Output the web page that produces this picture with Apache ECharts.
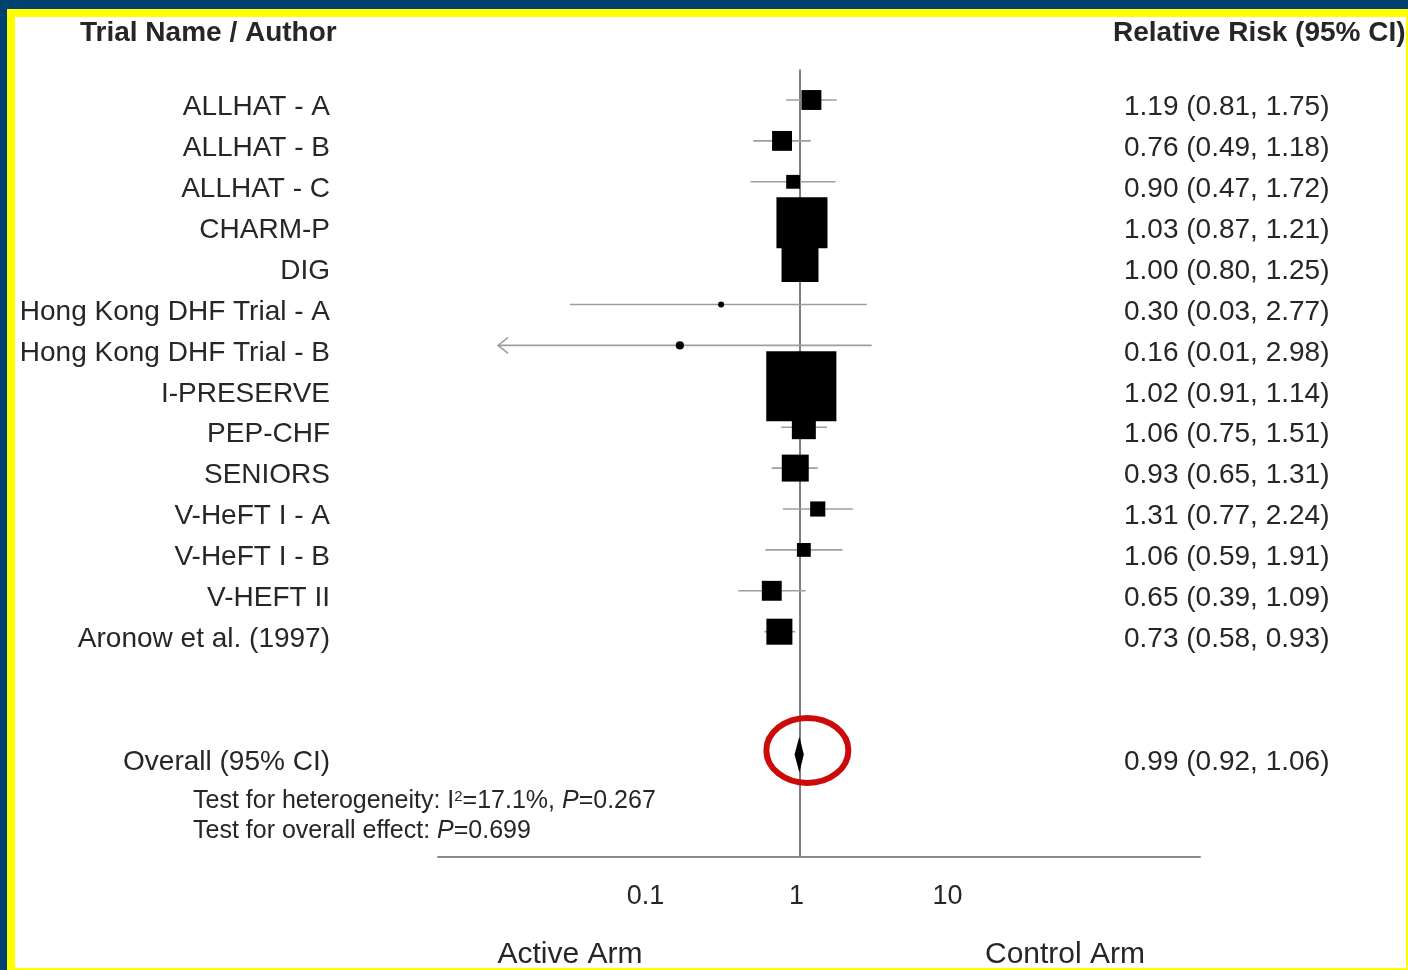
<!DOCTYPE html>
<html>
<head>
<meta charset="utf-8">
<script src="https://cdn.jsdelivr.net/npm/echarts@6/dist/echarts.min.js"></script>
<style>
  html, body { margin: 0; padding: 0; background: #fff; }
  #chart { width: 1408px; height: 970px; }
</style>
</head>
<body>
<div id="chart"></div>
<script>
// study rows (top to bottom)
var trials = ['ALLHAT - A', 'ALLHAT - B', 'ALLHAT - C', 'CHARM-P', 'DIG',
  'Hong Kong DHF Trial - A', 'Hong Kong DHF Trial - B', 'I-PRESERVE', 'PEP-CHF',
  'SENIORS', 'V-HeFT I - A', 'V-HeFT I - B', 'V-HEFT II', 'Aronow et al. (1997)'];
var rr = [1.19, 0.76, 0.90, 1.03, 1.00, 0.30, 0.16, 1.02, 1.06, 0.93, 1.31, 1.06, 0.65, 0.73];
var ciLow = [0.81, 0.49, 0.47, 0.87, 0.80, 0.03, 0.01, 0.91, 0.75, 0.65, 0.77, 0.59, 0.39, 0.58];
var ciHigh = [1.75, 1.18, 1.72, 1.21, 1.25, 2.77, 2.98, 1.14, 1.51, 1.31, 2.24, 1.91, 1.09, 0.93];
// study weight (%)
var weight = [3.1, 3.1, 1.5, 20.4, 10.7, 0.2, 0.4, 38.5, 4.5, 5.7, 1.8, 1.5, 3.1, 5.3];

// pooled estimate
var overallLabel = 'Overall (95% CI)';
var overall = [0.99, 0.92, 1.06];
var hetI2 = '17.1%';
var hetP = '0.267';
var overallP = '0.699';

var xTicks = [0.1, 1, 10];
var ciFloor = 0.01; // CI truncated here, drawn with an arrow

var overallRow = trials.length + 2;
var rowCount = overallRow + 3;

function fmt(v) { return v.toFixed(2); }

var leftLabels = [], rightLabels = [];
for (var i = 0; i < rowCount; i++) {
  if (i < trials.length) {
    leftLabels.push(trials[i]);
    rightLabels.push(fmt(rr[i]) + ' (' + fmt(ciLow[i]) + ', ' + fmt(ciHigh[i]) + ')');
  } else if (i === overallRow) {
    leftLabels.push(overallLabel);
    rightLabels.push(fmt(overall[0]) + ' (' + fmt(overall[1]) + ', ' + fmt(overall[2]) + ')');
  } else {
    leftLabels.push('');
    rightLabels.push('');
  }
}

var studyData = trials.map(function (t, i) {
  return [rr[i], ciLow[i], ciHigh[i], i, weight[i]];
});

var FONT = '"Liberation Sans", Arial, sans-serif';
var TXT = '#262626';

var chart = echarts.init(document.getElementById('chart'));

// row labels sit a little below the marks
var rowLabel = {
  interval: 0,
  fontSize: 28,
  fontFamily: FONT,
  color: TXT,
  verticalAlign: 'top',
  lineHeight: 15
};

var option = {
  backgroundColor: '#ffffff',
  animation: false,
  grid: {
    left: 438, top: 79.55, width: 762, height: 777.1,
    containLabel: false, outerBoundsMode: 'none'
  },
  xAxis: {
    type: 'log',
    logBase: 10,
    min: 0.004,
    max: 446,
    axisLine: { show: true, lineStyle: { color: '#8c8c8c', width: 2 } },
    axisTick: { show: false },
    splitLine: { show: false },
    axisLabel: {
      margin: 26,
      fontSize: 27,
      fontFamily: FONT,
      color: TXT,
      padding: [0, 7, 0, 0],
      showMinLabel: false,
      showMaxLabel: false,
      formatter: function (v) {
        for (var k = 0; k < xTicks.length; k++) {
          if (Math.abs(v - xTicks[k]) < xTicks[k] * 1e-6) return String(xTicks[k]);
        }
        return '';
      }
    }
  },
  yAxis: [{
    type: 'category',
    inverse: true,
    data: leftLabels,
    axisLine: { show: false },
    axisTick: { show: false },
    splitLine: { show: false },
    axisLabel: Object.assign({ margin: 108, align: 'right' }, rowLabel)
  }, {
    type: 'category',
    inverse: true,
    position: 'right',
    offset: -76,
    data: rightLabels,
    axisLine: { show: false },
    axisTick: { show: false },
    splitLine: { show: false },
    axisLabel: Object.assign({ margin: 0, align: 'left' }, rowLabel)
  }],
  series: [{
    // line of no effect
    type: 'custom',
    z: 1,
    data: [[1, 0]],
    encode: { x: 0, y: 1 },
    renderItem: function (params, api) {
      var x = api.coord([api.value(0), 0])[0];
      var cs = params.coordSys;
      return {
        type: 'line',
        shape: { x1: x, y1: cs.y - 10, x2: x, y2: cs.y + cs.height },
        style: { stroke: '#7d7d7d', lineWidth: 2 }
      };
    }
  }, {
    // studies: CI whisker + weighted box
    type: 'custom',
    z: 2,
    data: studyData,
    encode: { x: [0, 1, 2], y: 3 },
    renderItem: function (params, api) {
      var row = api.value(3);
      var mid = api.coord([api.value(0), row]);
      var lo = api.coord([api.value(1), row]);
      var hi = api.coord([api.value(2), row]);
      var size = Math.sqrt(api.value(4)) * 11.3;
      var kids = [{
        type: 'line',
        shape: { x1: lo[0], y1: mid[1], x2: hi[0], y2: mid[1] },
        style: { stroke: '#9e9e9e', lineWidth: 1.6 }
      }];
      if (api.value(1) <= ciFloor) {
        kids.push({
          type: 'polyline',
          shape: { points: [[lo[0] + 10, mid[1] - 8], [lo[0], mid[1]], [lo[0] + 10, mid[1] + 8]] },
          style: { stroke: '#9e9e9e', lineWidth: 1.6, fill: null }
        });
      }
      kids.push(size < 8 ? {
        type: 'circle',
        shape: { cx: mid[0], cy: mid[1], r: size / 2 + 0.5 },
        style: { fill: '#000' }
      } : {
        type: 'rect',
        shape: { x: mid[0] - size / 2, y: mid[1] - size / 2, width: size, height: size },
        style: { fill: '#000' }
      });
      return { type: 'group', children: kids };
    }
  }, {
    // pooled diamond, circled in red
    type: 'custom',
    z: 3,
    data: [[overall[0], overall[1], overall[2], overallRow]],
    encode: { x: [0, 1, 2], y: 3 },
    renderItem: function (params, api) {
      var row = api.value(3);
      var mid = api.coord([api.value(0), row]);
      var lo = api.coord([api.value(1), row]);
      var hi = api.coord([api.value(2), row]);
      return {
        type: 'group',
        children: [{
          type: 'polygon',
          shape: { points: [[lo[0], mid[1]], [mid[0], mid[1] - 18], [hi[0], mid[1]], [mid[0], mid[1] + 18]] },
          style: { fill: '#000' }
        }, {
          type: 'ellipse',
          shape: { cx: mid[0] + 8, cy: mid[1] - 4, rx: 41, ry: 32.5 },
          style: { fill: null, stroke: '#cc0a0a', lineWidth: 6 }
        }]
      };
    }
  }],
  graphic: [
    { type: 'text', left: 80, top: 19, z: 10,
      style: { text: 'Trial Name / Author', font: 'bold 28px ' + FONT, fill: TXT } },
    { type: 'text', left: 1113, top: 19, z: 10,
      style: { text: 'Relative Risk (95% CI)', font: 'bold 28px ' + FONT, fill: TXT } },
    { type: 'text', left: 193, top: 789, z: 10,
      style: {
        text: 'Test for heterogeneity: I{sup|2}=' + hetI2 + ', {it|P}=' + hetP,
        font: '25px ' + FONT, fill: TXT,
        rich: {
          sup: { fontSize: 15, fontFamily: FONT, fill: TXT, verticalAlign: 'top', padding: [0, 0, 8, 0] },
          it: { fontSize: 25, fontFamily: FONT, fontStyle: 'italic', fill: TXT }
        }
      } },
    { type: 'text', left: 193, top: 819, z: 10,
      style: {
        text: 'Test for overall effect: {it|P}=' + overallP,
        font: '25px ' + FONT, fill: TXT,
        rich: { it: { fontSize: 25, fontFamily: FONT, fontStyle: 'italic', fill: TXT } }
      } },
    { type: 'text', x: 570, y: 955, z: 10,
      style: { text: 'Active Arm', font: '30px ' + FONT, fill: TXT, align: 'center', verticalAlign: 'middle' } },
    { type: 'text', x: 1065, y: 955, z: 10,
      style: { text: 'Control Arm', font: '30px ' + FONT, fill: TXT, align: 'center', verticalAlign: 'middle' } },
    // slide frame
    { type: 'rect', z: 100, shape: { x: 0, y: 0, width: 1408, height: 9 }, style: { fill: '#00426f' } },
    { type: 'rect', z: 100, shape: { x: 0, y: 0, width: 7, height: 970 }, style: { fill: '#00426f' } },
    { type: 'rect', z: 100, shape: { x: 7, y: 9, width: 1401, height: 8 }, style: { fill: '#ffff00' } },
    { type: 'rect', z: 100, shape: { x: 7, y: 9, width: 8, height: 961 }, style: { fill: '#ffff00' } },
    { type: 'rect', z: 100, shape: { x: 7, y: 968, width: 1401, height: 2 }, style: { fill: '#ffff00' } },
    { type: 'rect', z: 100, shape: { x: 1406, y: 9, width: 2, height: 961 }, style: { fill: '#ffff00' } }
  ]
};

chart.setOption(option);
</script>
</body>
</html>
